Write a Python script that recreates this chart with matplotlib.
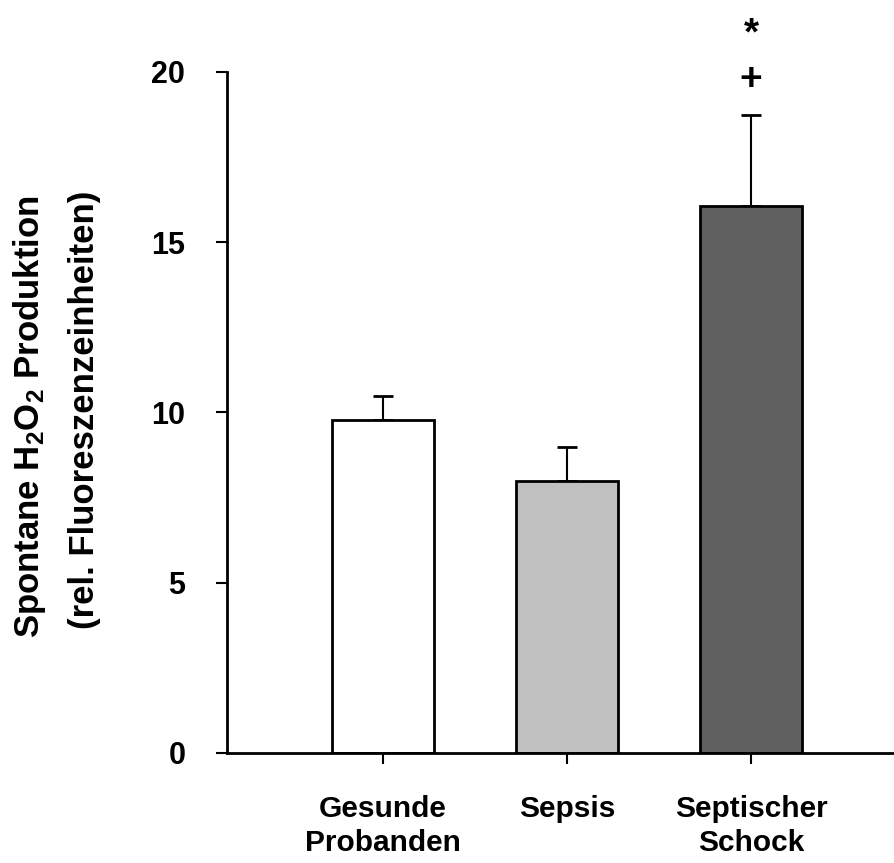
import matplotlib
matplotlib.use("Agg")
import matplotlib.pyplot as plt

plt.rcParams['font.family'] = ['Liberation Sans', 'DejaVu Sans']
plt.rcParams['font.weight'] = 'bold'
plt.rcParams['mathtext.fontset'] = 'custom'
plt.rcParams['mathtext.rm'] = 'Liberation Sans:bold'
plt.rcParams['mathtext.it'] = 'Liberation Sans:bold'
plt.rcParams['mathtext.bf'] = 'Liberation Sans:bold'

# data
groups = ["Gesunde\nProbanden", "Sepsis", "Septischer\nSchock"]
means = [9.77, 7.98, 16.05]
errors = [0.70, 1.00, 2.70]
bar_colors = ["#ffffff", "#c0c0c0", "#606060"]
marks = ["*", "+"]
mark_heights = [21.1, 19.75]
y_ticks = [0, 5, 10, 15, 20]

fig = plt.figure(figsize=(8.94, 8.63), dpi=100)
ax = fig.add_axes([0.2539, 0.1275, 0.7461, 0.7891])

x = list(range(len(groups)))
ax.bar(x, means, width=0.55, color=bar_colors, edgecolor="black", linewidth=2, zorder=2)
ax.errorbar(x, means, yerr=[[0] * len(errors), errors], fmt="none", ecolor="black",
            elinewidth=1.5, capsize=7.5, capthick=2, zorder=1)

# significance marks above the septic shock bar
for m, h in zip(marks, mark_heights):
    ax.text(x[-1], h, m, ha="center", va="center", fontsize=28, fontweight="bold", clip_on=False)

ax.set_xlim(-0.848, 2.777)
ax.set_ylim(0, 20)
ax.set_xticks(x)
ax.set_xticklabels(groups, fontsize=21.5, fontweight="bold", linespacing=1.3)
ax.set_yticks(y_ticks)
ax.set_yticklabels([str(t) for t in y_ticks], fontsize=22, fontweight="bold")

ax.spines["top"].set_visible(False)
ax.spines["right"].set_visible(False)
ax.spines["left"].set_linewidth(2)
ax.spines["bottom"].set_linewidth(2)
ax.tick_params(axis="both", direction="out", length=8, width=1.5, pad=22)

fig.text(0.033, 0.517, r"Spontane H$_2$O$_2$ Produktion", rotation=90, ha="center", va="center",
         fontsize=25, fontweight="bold")
fig.text(0.095, 0.525, "(rel. Fluoreszenzeinheiten)", rotation=90, ha="center", va="center",
         fontsize=25, fontweight="bold")

fig.savefig("out.png", dpi=100)
